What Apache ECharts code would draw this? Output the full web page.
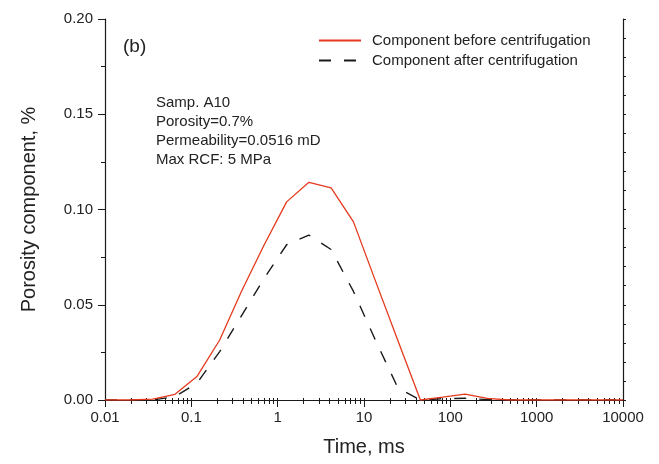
<!DOCTYPE html>
<html>
<head>
<meta charset="utf-8">
<script src="https://cdn.jsdelivr.net/npm/echarts@6/dist/echarts.min.js"></script>
<style>
  html, body { margin: 0; padding: 0; background: #fff; }
  #chart { width: 659px; height: 464px; }
</style>
</head>
<body>
<div id="chart"></div>
<script>
// relaxation times (ms), log spaced
const times = [0.01, 0.0199, 0.0357, 0.0647, 0.117, 0.213, 0.385, 0.699, 1.27, 2.30, 4.16, 7.55,
  13.7, 24.8, 45.0, 81.6, 148, 268, 486, 881, 1600, 2900, 5250, 9520, 10000]
const beforeCentri = [0, 0, 0.0005, 0.003, 0.0125, 0.0315, 0.0575, 0.0815, 0.104, 0.1143, 0.1113, 0.0935,
  0.062, 0.031, 0, 0.0015, 0.0031, 0.0008, 0, 0, 0, 0, 0, 0, 0]
const afterCentri = [0, 0, 0, 0.0018, 0.009, 0.0254, 0.0446, 0.0639, 0.0815, 0.0866, 0.079, 0.057,
  0.031, 0.0062, 0, 0.0007, 0.0009, 0.0002, 0, 0, 0, 0, 0, 0, 0]
const infoLines = ['Samp. A10', 'Porosity=0.7%', 'Permeability=0.0516 mD', 'Max RCF: 5 MPa']

const FONT = '"Liberation Sans", Arial, sans-serif'
const RED = '#e5391e'
const INK = '#1a1a1a'

const chart = echarts.init(document.getElementById('chart'))

const pair = (xs, ys) => xs.map((x, i) => [x, ys[i]])

const fmtX = v => v >= 1 ? String(Math.round(v)) : String(+v.toPrecision(1))

chart.setOption({
  animation: false,
  grid: { left: 105, right: 36, top: 19, bottom: 64 },
  legend: {
    orient: 'vertical',
    left: 318,
    top: 33,
    padding: 0,
    itemWidth: 42,
    itemHeight: 12,
    itemGap: 5,
    itemStyle: { opacity: 0 },
    textStyle: { fontFamily: FONT, fontSize: 15, color: '#222', padding: [0, 0, 0, 6] },
    data: ['Component before centrifugation', 'Component after centrifugation']
  },
  xAxis: [
    {
      type: 'log', logBase: 10, min: 0.01, max: 10000, interval: 1,
      position: 'bottom',
      name: 'Time, ms', nameLocation: 'middle', nameGap: 37,
      nameTextStyle: { fontFamily: FONT, fontSize: 20, color: '#222' },
      axisLine: { lineStyle: { color: INK, width: 1.2 } },
      axisTick: { length: 7, lineStyle: { color: INK, width: 1 } },
      minorTick: { show: true, splitNumber: 9, length: 4, lineStyle: { color: INK, width: 1 } },
      axisLabel: { margin: 10, fontFamily: FONT, fontSize: 15, color: '#222', formatter: fmtX },
      splitLine: { show: false }, minorSplitLine: { show: false }
    },
    {
      type: 'log', logBase: 10, min: 0.01, max: 10000, interval: 1,
      position: 'top',
      axisLine: { lineStyle: { color: INK, width: 1.2 } },
      axisTick: { length: 2, lineStyle: { color: INK, width: 1 } },
      minorTick: { show: true, splitNumber: 9, length: 2, lineStyle: { color: INK, width: 1 } },
      axisLabel: { show: false },
      splitLine: { show: false }
    }
  ],
  yAxis: [
    {
      type: 'value', min: 0, max: 0.2, interval: 0.05,
      name: 'Porosity component, %', nameLocation: 'middle', nameGap: 66,
      nameTextStyle: { fontFamily: FONT, fontSize: 20, color: '#222' },
      axisLine: { show: true, lineStyle: { color: INK, width: 1.2 } },
      axisTick: { show: true, length: 7, lineStyle: { color: INK, width: 1 } },
      minorTick: { show: true, splitNumber: 2, length: 4, lineStyle: { color: INK, width: 1 } },
      axisLabel: { margin: 12, fontFamily: FONT, fontSize: 15, color: '#222', formatter: v => v.toFixed(2) },
      splitLine: { show: false }
    },
    {
      type: 'value', min: 0, max: 0.2, interval: 0.01,
      position: 'right',
      axisLine: { show: true, lineStyle: { color: INK, width: 1.2 } },
      axisTick: { show: true, length: 3, lineStyle: { color: INK, width: 1 } },
      axisLabel: { show: false },
      splitLine: { show: false }
    }
  ],
  graphic: [
    { type: 'text', left: 123, top: 37, style: { text: '(b)', font: '19px ' + FONT, fill: '#222' } },
    {
      type: 'text', left: 156, top: 93,
      style: { text: infoLines.join('\n'), font: '15px ' + FONT, lineHeight: 19, fill: '#222' }
    }
  ],
  series: [
    {
      name: 'Component before centrifugation',
      type: 'line',
      data: pair(times, beforeCentri),
      symbol: 'none',
      lineStyle: { color: RED, width: 1.3 },
      itemStyle: { color: RED },
      z: 3
    },
    {
      name: 'Component after centrifugation',
      type: 'line',
      data: pair(times, afterCentri),
      symbol: 'none',
      lineStyle: { color: INK, width: 1.4, type: [12, 13] },
      itemStyle: { color: INK },
      z: 2
    }
  ]
})
</script>
</body>
</html>
